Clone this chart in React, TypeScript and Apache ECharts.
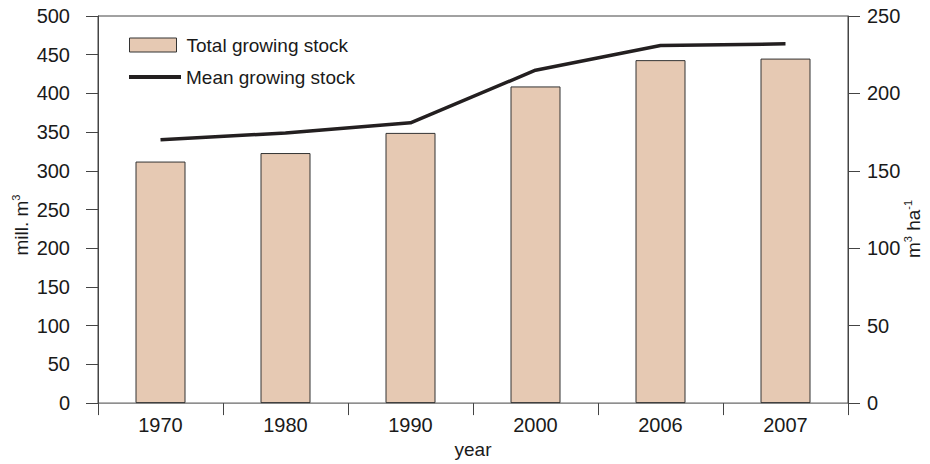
import React, { useEffect, useRef } from "react";
import * as echarts from "echarts";

const years = ["1970", "1980", "1990", "2000", "2006", "2007"];
const totalStock = [312, 323, 349, 409, 443, 445];
const meanStock = [170, 174.5, 181, 215, 231, 232];
const leftTicks = { min: 0, max: 500, interval: 50 };
const rightTicks = { min: 0, max: 250, interval: 50 };

const FONT = "'Liberation Sans', Arial, Helvetica, sans-serif";
const TXT = "#1a1a1a";
const AX = "#444444";

export default function App() {
  const ref = useRef<HTMLDivElement>(null);
  useEffect(() => {
    if (!ref.current) return;
    const chart = echarts.init(ref.current, null, { renderer: "svg" });
    chart.setOption({
      animation: false,
      backgroundColor: "#ffffff",
      textStyle: { fontFamily: FONT, color: TXT },
      grid: {
        left: 98,
        right: 82,
        top: 16,
        bottom: 58,
        show: true,
        borderColor: AX,
        borderWidth: 1,
        containLabel: false,
      },
      legend: [
        {
          data: [{ name: "Total growing stock", icon: "rect" }],
          left: 129,
          top: 35,
          padding: 0,
          itemWidth: 47,
          itemHeight: 14,
          itemStyle: { borderColor: "#333333", borderWidth: 1 },
          textStyle: { fontSize: 19, color: TXT, fontFamily: FONT, lineHeight: 20, padding: [0, 0, 0, 5] },
          selectedMode: false,
        },
        {
          data: [{ name: "Mean growing stock", icon: "rect" }],
          left: 129,
          top: 67,
          padding: 0,
          itemWidth: 52,
          itemHeight: 4,
          itemStyle: { color: "#231f20", borderWidth: 0 },
          lineStyle: { width: 0 },
          textStyle: { fontSize: 19, color: TXT, fontFamily: FONT, lineHeight: 20 },
          selectedMode: false,
        },
      ],
      xAxis: {
        type: "category",
        data: years,
        offset: 2,
        axisLine: { show: false },
        axisTick: { show: true, length: 12, lineStyle: { color: AX, width: 1 } },
        axisLabel: { fontSize: 20, color: TXT, fontFamily: FONT, margin: 10 },
        name: "year",
        nameLocation: "middle",
        nameGap: 30,
        nameTextStyle: { fontSize: 19, color: TXT, fontFamily: FONT },
        splitLine: { show: false },
      },
      yAxis: [
        {
          type: "value",
          min: leftTicks.min,
          max: leftTicks.max,
          interval: leftTicks.interval,
          position: "left",
          axisLine: { show: true, lineStyle: { color: AX, width: 1 } },
          axisTick: { show: true, length: 12, lineStyle: { color: AX, width: 1 } },
          axisLabel: { fontSize: 20, color: TXT, fontFamily: FONT, margin: 28 },
          splitLine: { show: false },
        },
        {
          type: "value",
          min: rightTicks.min,
          max: rightTicks.max,
          interval: rightTicks.interval,
          position: "right",
          axisLine: { show: true, lineStyle: { color: AX, width: 1 } },
          axisTick: { show: true, length: 12, lineStyle: { color: AX, width: 1 } },
          axisLabel: { fontSize: 20, color: TXT, fontFamily: FONT, margin: 19 },
          splitLine: { show: false },
        },
      ],
      series: [
        {
          name: "Total growing stock",
          type: "bar",
          yAxisIndex: 0,
          data: totalStock,
          barWidth: 50,
          itemStyle: { color: "#e6c9b3", borderColor: "#333333", borderWidth: 1 },
        },
        {
          name: "Mean growing stock",
          type: "line",
          yAxisIndex: 1,
          data: meanStock,
          symbol: "none",
          lineStyle: { color: "#231f20", width: 3.5 },
          itemStyle: { color: "#231f20" },
        },
      ],
      graphic: [
        {
          type: "text",
          x: 21,
          y: 225,
          rotation: Math.PI / 2,
          style: {
            text: "mill. m{sup|3}",
            fontSize: 19,
            fontFamily: FONT,
            fill: TXT,
            align: "center",
            verticalAlign: "middle",
            lineHeight: 22,
            rich: {
              sup: { fontSize: 11, fontFamily: FONT, fill: TXT, verticalAlign: "top", lineHeight: 14 },
            },
          },
        },
        {
          type: "text",
          x: 913,
          y: 229,
          rotation: Math.PI / 2,
          style: {
            text: "m{sup|3} ha{sup|-1}",
            fontSize: 19,
            fontFamily: FONT,
            fill: TXT,
            align: "center",
            verticalAlign: "middle",
            lineHeight: 22,
            rich: {
              sup: { fontSize: 11, fontFamily: FONT, fill: TXT, verticalAlign: "top", lineHeight: 14 },
            },
          },
        },
      ],
    });
    return () => chart.dispose();
  }, []);
  return <div ref={ref} style={{ width: 930, height: 464, position: "absolute", left: 0, top: 0 }} />;
}
